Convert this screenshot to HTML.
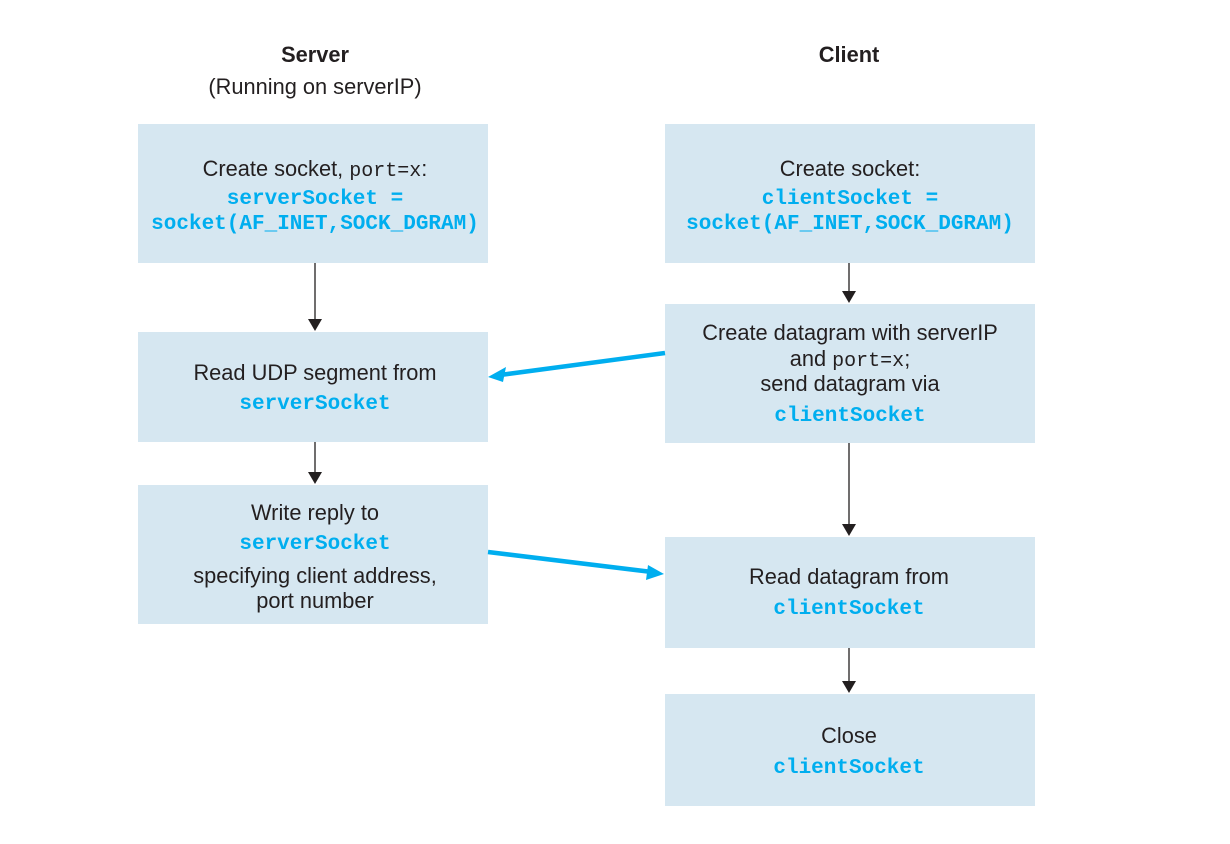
<!DOCTYPE html>
<html><head><meta charset="utf-8"><style>
html,body{margin:0;padding:0;background:#fff;}
svg{display:block}
.t{font-family:"Liberation Sans",sans-serif;font-size:21.8px;fill:#231f20;text-anchor:middle}
.b{font-weight:bold}
.m{font-family:"Liberation Mono",monospace;font-size:21px;font-weight:bold;fill:#00aeef;text-anchor:middle}
.p{font-family:"Liberation Mono",monospace;font-size:20px;fill:#231f20}
.box{fill:#d6e7f1}
</style></head><body>
<svg width="1230" height="844" viewBox="0 0 1230 844">
<text class="t b" x="315" y="62">Server</text>
<text class="t" x="315" y="94">(Running on serverIP)</text>
<text class="t b" x="849" y="62">Client</text>

<rect class="box" x="138" y="124" width="350" height="139"/>
<rect class="box" x="138" y="332" width="350" height="110"/>
<rect class="box" x="138" y="485" width="350" height="139"/>
<rect class="box" x="665" y="124" width="370" height="139"/>
<rect class="box" x="665" y="304" width="370" height="139"/>
<rect class="box" x="665" y="537" width="370" height="111"/>
<rect class="box" x="665" y="694" width="370" height="112"/>

<text class="t" x="315" y="176">Create  socket, <tspan class="p">port=x</tspan>:</text>
<text class="m" x="315" y="204">serverSocket =</text>
<text class="m" x="315" y="229">socket(AF_INET,SOCK_DGRAM)</text>

<text class="t" x="315" y="380">Read UDP segment from</text>
<text class="m" x="315" y="409">serverSocket</text>

<text class="t" x="315" y="520">Write reply to</text>
<text class="m" x="315" y="549">serverSocket</text>
<text class="t" x="315" y="583">specifying client address,</text>
<text class="t" x="315" y="608">port number</text>

<text class="t" x="850" y="176">Create socket:</text>
<text class="m" x="850" y="204">clientSocket =</text>
<text class="m" x="850" y="229">socket(AF_INET,SOCK_DGRAM)</text>

<text class="t" x="850" y="340">Create datagram with serverIP</text>
<text class="t" x="850" y="366">and <tspan class="p">port=x</tspan>;</text>
<text class="t" x="850" y="391">send datagram via</text>
<text class="m" x="850" y="421">clientSocket</text>

<text class="t" x="849" y="584">Read datagram from</text>
<text class="m" x="849" y="614">clientSocket</text>

<text class="t" x="849" y="743">Close</text>
<text class="m" x="849" y="773">clientSocket</text>

<g stroke="#231f20" stroke-width="1.3">
<line x1="315" y1="263" x2="315" y2="320"/>
<line x1="315" y1="442" x2="315" y2="473"/>
<line x1="849" y1="263" x2="849" y2="292"/>
<line x1="849" y1="443" x2="849" y2="525"/>
<line x1="849" y1="648" x2="849" y2="682"/>
</g>
<g fill="#231f20">
<polygon points="308,319 322,319 315,331"/>
<polygon points="308,472 322,472 315,484"/>
<polygon points="842,291 856,291 849,303"/>
<polygon points="842,524 856,524 849,536"/>
<polygon points="842,681 856,681 849,693"/>
</g>
<g stroke="#00aeef" stroke-width="4.5">
<line x1="665" y1="353" x2="500" y2="375"/>
<line x1="488" y1="552" x2="652" y2="572"/>
</g>
<g fill="#00aeef">
<polygon points="488,377 506,367 503,382"/>
<polygon points="664,574 646,580 648,565"/>
</g>
</svg>
</body></html>
